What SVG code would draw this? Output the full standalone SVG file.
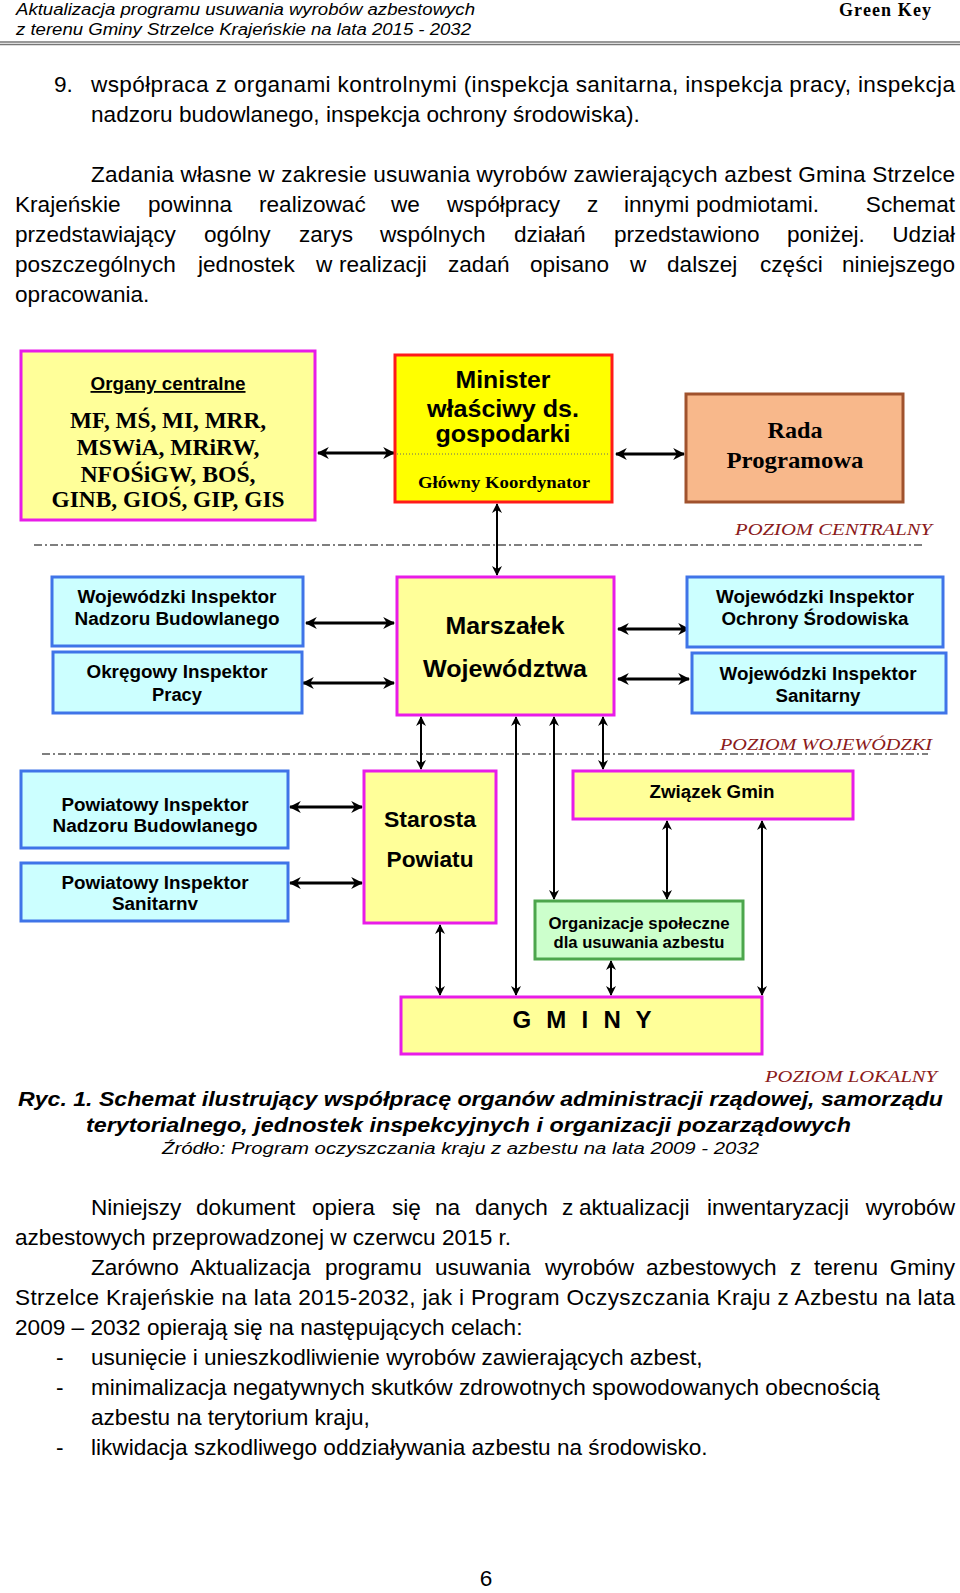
<svg xmlns="http://www.w3.org/2000/svg" width="960" height="1593" viewBox="0 0 960 1593">
<style>
.body{font-family:"Liberation Sans",Arial,sans-serif;font-size:22.6px;fill:#000}
.end{text-anchor:end}
.hdr{font-family:"Liberation Sans",Arial,sans-serif;font-size:16px;font-style:italic;fill:#000}
.lbl{font-family:"Liberation Sans",Arial,sans-serif;font-weight:bold;fill:#000}
.ser{font-family:"Liberation Serif","Times New Roman",serif;font-weight:bold;fill:#000}
.lvl{font-family:"Liberation Serif","Times New Roman",serif;font-style:italic;font-size:17px;fill:#8B1A1A}
.pink{fill:#FFFF99;stroke:#E81CE8;stroke-width:3}
.blue{fill:#CCFFFF;stroke:#3F74E8;stroke-width:3}
.dash{stroke:#555;stroke-width:1.5;stroke-dasharray:8 3 2 3;fill:none}
.thick{stroke:#000;stroke-width:3;fill:none;marker-start:url(#ah);marker-end:url(#ah)}
.thin{stroke:#000;stroke-width:2;fill:none;marker-start:url(#ah2);marker-end:url(#ah2)}
</style>
<defs>
<marker id="ah" viewBox="0 0 10 10" refX="9" refY="5" markerWidth="4" markerHeight="4" orient="auto-start-reverse" markerUnits="strokeWidth"><path d="M0,0 L10,5 L0,10 L3,5 z" fill="#000"/></marker>
<marker id="ah2" viewBox="0 0 10 10" refX="9" refY="5" markerWidth="5" markerHeight="5" orient="auto-start-reverse" markerUnits="strokeWidth"><path d="M0,0 L10,5 L0,10 L3,5 z" fill="#000"/></marker>
</defs>
<rect width="960" height="1593" fill="#fff"/>

<!-- header -->
<text class="hdr" x="16" y="15" textLength="459" lengthAdjust="spacingAndGlyphs">Aktualizacja programu usuwania wyrobów azbestowych</text>
<text class="hdr" x="16" y="35" textLength="455" lengthAdjust="spacingAndGlyphs">z terenu Gminy Strzelce Krajeńskie na lata 2015 - 2032</text>
<text x="931" y="16" text-anchor="end" textLength="92" lengthAdjust="spacing" style="font-family:'Liberation Serif',serif;font-weight:bold;font-size:18px">Green Key</text>
<line x1="0" y1="42" x2="960" y2="42" stroke="#777" stroke-width="1.5"/>
<line x1="0" y1="44.5" x2="960" y2="44.5" stroke="#777" stroke-width="1.5"/>

<!-- top text -->
<text class="body" x="54" y="92">9.</text>
<text class="body" x="91" y="92" textLength="864" lengthAdjust="spacing">współpraca z organami kontrolnymi (inspekcja sanitarna, inspekcja pracy, inspekcja</text>
<text class="body" x="91" y="122">nadzoru budowlanego, inspekcja ochrony środowiska).</text>

<text class="body" x="91" y="182" textLength="864" lengthAdjust="spacing">Zadania własne w zakresie usuwania wyrobów zawierających azbest Gmina Strzelce</text>
<text class="body" y="212"><tspan x="15">Krajeńskie</tspan><tspan x="148">powinna</tspan><tspan x="259">realizować</tspan><tspan x="391">we</tspan><tspan x="447">współpracy</tspan><tspan x="587">z</tspan><tspan x="624">innymi</tspan><tspan x="696">podmiotami.</tspan></text>
<text class="body end" x="955" y="212">Schemat</text>
<text class="body" y="242"><tspan x="15">przedstawiający</tspan><tspan x="204">ogólny</tspan><tspan x="299">zarys</tspan><tspan x="380">wspólnych</tspan><tspan x="514">działań</tspan><tspan x="614">przedstawiono</tspan><tspan x="787">poniżej.</tspan></text>
<text class="body end" x="955" y="242">Udział</text>
<text class="body" y="272"><tspan x="15">poszczególnych</tspan><tspan x="198">jednostek</tspan><tspan x="316">w</tspan><tspan x="339">realizacji</tspan><tspan x="448">zadań</tspan><tspan x="530">opisano</tspan><tspan x="630">w</tspan><tspan x="667">dalszej</tspan><tspan x="760">części</tspan></text>
<text class="body end" x="955" y="272">niniejszego</text>
<text class="body" x="15" y="302">opracowania.</text>

<!-- level separators -->
<line class="dash" x1="34" y1="545" x2="922" y2="545"/>
<line class="dash" x1="42" y1="754" x2="928" y2="754"/>
<text class="lvl" x="932" y="535" text-anchor="end" textLength="197" lengthAdjust="spacingAndGlyphs">POZIOM  CENTRALNY</text>
<text class="lvl" x="932" y="750" text-anchor="end" textLength="212" lengthAdjust="spacingAndGlyphs">POZIOM  WOJEWÓDZKI</text>
<text class="lvl" x="937" y="1082" text-anchor="end" textLength="172" lengthAdjust="spacingAndGlyphs">POZIOM  LOKALNY</text>

<!-- connectors -->
<g id="connectors">
<line class="thick" x1="318" y1="453" x2="394" y2="453"/>
<line class="thick" x1="616" y1="454" x2="684" y2="454"/>
<line class="thin" x1="497" y1="504" x2="497" y2="575"/>
<line class="thick" x1="306" y1="623" x2="394" y2="623"/>
<line class="thick" x1="303" y1="683" x2="394" y2="683"/>
<line class="thick" x1="618" y1="629" x2="689" y2="629"/>
<line class="thick" x1="618" y1="679" x2="689" y2="679"/>
<line class="thin" x1="421" y1="717" x2="421" y2="769"/>
<line class="thin" x1="516" y1="717" x2="516" y2="995"/>
<line class="thin" x1="554" y1="717" x2="554" y2="899"/>
<line class="thin" x1="603" y1="717" x2="603" y2="769"/>
<line class="thick" x1="290" y1="807" x2="362" y2="807"/>
<line class="thick" x1="290" y1="883" x2="362" y2="883"/>
<line class="thin" x1="440" y1="925" x2="440" y2="995"/>
<line class="thin" x1="667" y1="821" x2="667" y2="899"/>
<line class="thin" x1="611" y1="961" x2="611" y2="995"/>
<line class="thin" x1="762" y1="821" x2="762" y2="995"/>
</g>

<!-- nodes -->
<g id="organy">
<rect class="pink" x="21" y="351" width="294" height="169"/>
<text class="lbl" x="168" y="390" text-anchor="middle" font-size="18" textLength="155" lengthAdjust="spacingAndGlyphs" text-decoration="underline">Organy centralne</text>
<text class="ser" x="168" y="428" text-anchor="middle" font-size="24" textLength="196" lengthAdjust="spacingAndGlyphs">MF, MŚ, MI, MRR,</text>
<text class="ser" x="168" y="455" text-anchor="middle" font-size="24" textLength="183" lengthAdjust="spacingAndGlyphs">MSWiA, MRiRW,</text>
<text class="ser" x="168" y="482" text-anchor="middle" font-size="24" textLength="175" lengthAdjust="spacingAndGlyphs">NFOŚiGW, BOŚ,</text>
<text class="ser" x="168" y="507" text-anchor="middle" font-size="24" textLength="233" lengthAdjust="spacingAndGlyphs">GINB, GIOŚ, GIP, GIS</text>
</g>
<g id="minister">
<rect x="395" y="355" width="217" height="147" fill="#FFFF00" stroke="#FF1A1A" stroke-width="3"/>
<line x1="397" y1="454" x2="610" y2="454" stroke="#666" stroke-width="1" stroke-dasharray="1 2"/>
<text class="lbl" x="503" y="388" text-anchor="middle" font-size="24" textLength="95" lengthAdjust="spacingAndGlyphs">Minister</text>
<text class="lbl" x="503" y="417" text-anchor="middle" font-size="24" textLength="152" lengthAdjust="spacingAndGlyphs">właściwy ds.</text>
<text class="lbl" x="503" y="442" text-anchor="middle" font-size="24" textLength="135" lengthAdjust="spacingAndGlyphs">gospodarki</text>
<text class="ser" x="504" y="488" text-anchor="middle" font-size="17" textLength="172" lengthAdjust="spacingAndGlyphs">Główny Koordynator</text>
</g>
<g id="rada">
<rect x="686" y="394" width="217" height="108" fill="#F8B88B" stroke="#A0522D" stroke-width="3"/>
<text class="ser" x="795" y="438" text-anchor="middle" font-size="24" textLength="55" lengthAdjust="spacingAndGlyphs">Rada</text>
<text class="ser" x="795" y="468" text-anchor="middle" font-size="24" textLength="137" lengthAdjust="spacingAndGlyphs">Programowa</text>
</g>
<g id="winb">
<rect class="blue" x="52" y="577" width="251" height="69"/>
<text class="lbl" x="177" y="603" text-anchor="middle" font-size="18" textLength="199" lengthAdjust="spacingAndGlyphs">Wojewódzki Inspektor</text>
<text class="lbl" x="177" y="625" text-anchor="middle" font-size="18" textLength="205" lengthAdjust="spacingAndGlyphs">Nadzoru Budowlanego</text>
</g>
<g id="oip">
<rect class="blue" x="53" y="652" width="249" height="61"/>
<text class="lbl" x="177" y="678" text-anchor="middle" font-size="18" textLength="181" lengthAdjust="spacingAndGlyphs">Okręgowy Inspektor</text>
<text class="lbl" x="177" y="701" text-anchor="middle" font-size="18" textLength="50" lengthAdjust="spacingAndGlyphs">Pracy</text>
</g>
<g id="marszalek">
<rect class="pink" x="397" y="577" width="217" height="138"/>
<text class="lbl" x="505" y="634" text-anchor="middle" font-size="24" textLength="119" lengthAdjust="spacingAndGlyphs">Marszałek</text>
<text class="lbl" x="505" y="677" text-anchor="middle" font-size="24" textLength="164" lengthAdjust="spacingAndGlyphs">Województwa</text>
</g>
<g id="wios">
<rect class="blue" x="687" y="577" width="256" height="70"/>
<text class="lbl" x="815" y="603" text-anchor="middle" font-size="18" textLength="198" lengthAdjust="spacingAndGlyphs">Wojewódzki Inspektor</text>
<text class="lbl" x="815" y="625" text-anchor="middle" font-size="18" textLength="187" lengthAdjust="spacingAndGlyphs">Ochrony Środowiska</text>
</g>
<g id="wis">
<rect class="blue" x="692" y="653" width="254" height="60"/>
<text class="lbl" x="818" y="680" text-anchor="middle" font-size="18" textLength="197" lengthAdjust="spacingAndGlyphs">Wojewódzki Inspektor</text>
<text class="lbl" x="818" y="702" text-anchor="middle" font-size="18" textLength="85" lengthAdjust="spacingAndGlyphs">Sanitarny</text>
</g>
<g id="pinb">
<rect class="blue" x="21" y="771" width="267" height="77"/>
<text class="lbl" x="155" y="811" text-anchor="middle" font-size="18" textLength="187" lengthAdjust="spacingAndGlyphs">Powiatowy Inspektor</text>
<text class="lbl" x="155" y="832" text-anchor="middle" font-size="18" textLength="205" lengthAdjust="spacingAndGlyphs">Nadzoru Budowlanego</text>
</g>
<g id="pis">
<rect class="blue" x="21" y="863" width="267" height="58"/>
<text class="lbl" x="155" y="889" text-anchor="middle" font-size="18" textLength="187" lengthAdjust="spacingAndGlyphs">Powiatowy Inspektor</text>
<text class="lbl" x="155" y="910" text-anchor="middle" font-size="18" textLength="86" lengthAdjust="spacingAndGlyphs">Sanitarnv</text>
</g>
<g id="starosta">
<rect class="pink" x="364" y="771" width="132" height="152"/>
<text class="lbl" x="430" y="827" text-anchor="middle" font-size="22" textLength="92" lengthAdjust="spacingAndGlyphs">Starosta</text>
<text class="lbl" x="430" y="867" text-anchor="middle" font-size="22" textLength="87" lengthAdjust="spacingAndGlyphs">Powiatu</text>
</g>
<g id="zwiazek">
<rect class="pink" x="573" y="771" width="280" height="48"/>
<text class="lbl" x="712" y="798" text-anchor="middle" font-size="18" textLength="125" lengthAdjust="spacingAndGlyphs">Związek Gmin</text>
</g>
<g id="organizacje">
<rect x="535" y="901" width="208" height="58" fill="#CCFFCC" stroke="#4CA64C" stroke-width="3"/>
<text class="lbl" x="639" y="929" text-anchor="middle" font-size="16" textLength="181" lengthAdjust="spacingAndGlyphs">Organizacje społeczne</text>
<text class="lbl" x="639" y="948" text-anchor="middle" font-size="16" textLength="171" lengthAdjust="spacingAndGlyphs">dla usuwania azbestu</text>
</g>
<g id="gminy">
<rect class="pink" x="401" y="997" width="361" height="57"/>
<text class="lbl" x="582" y="1028" text-anchor="middle" font-size="24" textLength="139" lengthAdjust="spacing">G M I N Y</text>
</g>

<!-- caption -->
<text x="18" y="1106" style="font-family:'Liberation Sans',sans-serif;font-weight:bold;font-style:italic;font-size:21px" textLength="925" lengthAdjust="spacingAndGlyphs">Ryc. 1. Schemat ilustrujący współpracę organów administracji rządowej, samorządu</text>
<text x="86" y="1132" style="font-family:'Liberation Sans',sans-serif;font-weight:bold;font-style:italic;font-size:21px" textLength="765" lengthAdjust="spacingAndGlyphs">terytorialnego, jednostek inspekcyjnych i organizacji pozarządowych</text>
<text x="162" y="1154" style="font-family:'Liberation Sans',sans-serif;font-style:italic;font-size:16px" textLength="597" lengthAdjust="spacingAndGlyphs">Źródło: Program oczyszczania kraju z azbestu na lata 2009 - 2032</text>

<!-- bottom text -->
<text class="body" y="1215"><tspan x="91">Niniejszy</tspan><tspan x="196">dokument</tspan><tspan x="312">opiera</tspan><tspan x="392">się</tspan><tspan x="435">na</tspan><tspan x="475">danych</tspan><tspan x="562">z</tspan><tspan x="579">aktualizacji</tspan><tspan x="707">inwentaryzacji</tspan></text>
<text class="body end" x="955" y="1215">wyrobów</text>
<text class="body" x="15" y="1245">azbestowych przeprowadzonej w czerwcu 2015 r.</text>
<text class="body" y="1275"><tspan x="91">Zarówno</tspan><tspan x="190">Aktualizacja</tspan><tspan x="325">programu</tspan><tspan x="435">usuwania</tspan><tspan x="545">wyrobów</tspan><tspan x="646">azbestowych</tspan><tspan x="790">z</tspan><tspan x="814">terenu</tspan></text>
<text class="body end" x="955" y="1275">Gminy</text>
<text class="body" x="15" y="1305" textLength="940" lengthAdjust="spacing">Strzelce Krajeńskie na lata 2015-2032, jak i Program Oczyszczania Kraju z Azbestu na lata</text>
<text class="body" x="15" y="1335">2009 – 2032 opierają się na następujących celach:</text>
<text class="body" x="56" y="1365">-</text>
<text class="body" x="91" y="1365">usunięcie i unieszkodliwienie wyrobów zawierających azbest,</text>
<text class="body" x="56" y="1395">-</text>
<text class="body" x="91" y="1395">minimalizacja negatywnych skutków zdrowotnych spowodowanych obecnością</text>
<text class="body" x="91" y="1425">azbestu na terytorium kraju,</text>
<text class="body" x="56" y="1455">-</text>
<text class="body" x="91" y="1455">likwidacja szkodliwego oddziaływania azbestu na środowisko.</text>
<text class="body" x="486" y="1586" text-anchor="middle">6</text>
</svg>
